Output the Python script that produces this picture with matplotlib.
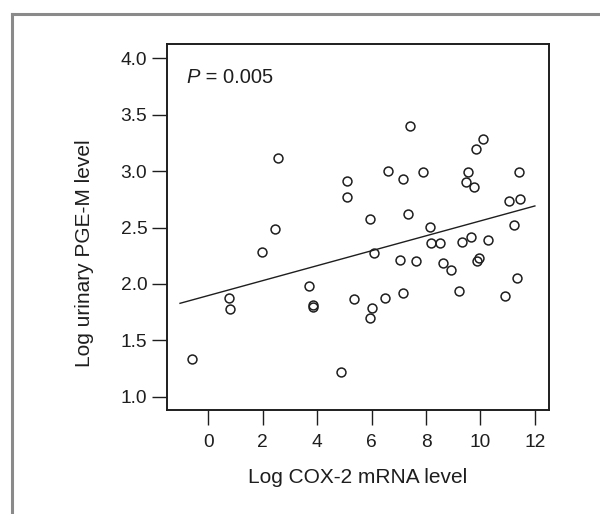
import matplotlib
matplotlib.use("Agg")
import matplotlib.pyplot as plt
from matplotlib.lines import Line2D

plt.rcParams['font.family'] = ['Liberation Sans', 'DejaVu Sans']

# Data
cox2 = [-0.59, 0.75, 0.80, 1.96, 2.44, 2.56, 3.71, 3.83, 3.84, 4.86,
        5.11, 5.11, 5.35, 5.95, 6.07, 6.02, 5.95, 6.61, 6.50, 7.16,
        7.41, 7.35, 7.04, 7.16, 7.64, 7.89, 8.13, 8.19, 8.50, 8.62,
        8.93, 9.22, 9.34, 9.47, 9.54, 9.65, 9.78, 9.83, 9.89, 9.95,
        10.08, 10.26, 10.92, 11.04, 11.23, 11.35, 11.41, 11.47]
pgem = [1.334, 1.878, 1.774, 2.286, 2.490, 3.119, 1.981, 1.816, 1.798, 1.219,
        2.915, 2.770, 1.863, 2.578, 2.271, 1.789, 1.700, 3.004, 1.878, 2.930,
        3.397, 2.623, 2.215, 1.919, 2.200, 2.989, 2.507, 2.360, 2.360, 2.185,
        2.126, 1.937, 2.374, 2.900, 2.989, 2.419, 2.859, 3.193, 2.200, 2.230,
        3.282, 2.389, 1.893, 2.738, 2.522, 2.052, 2.989, 2.756]
fit_x = [-1.04, 12.0]
fit_y = [1.828, 2.691]
x_ticks = [0, 2, 4, 6, 8, 10, 12]
y_ticks = [1.0, 1.5, 2.0, 2.5, 3.0, 3.5, 4.0]
p_label = "P"
p_value = " = 0.005"
x_label = "Log COX-2 mRNA level"
y_label = "Log urinary PGE-M level"

ink = '#1e1e1e'
fig = plt.figure(figsize=(6.0, 5.14), dpi=100)
ax = fig.add_axes([0.2778, 0.2023, 0.6377, 0.7115])

ax.plot(cox2, pgem, linestyle='none', marker='o', ms=6.4, mfc='none',
        mec=ink, mew=1.1, zorder=3)
ax.plot(fit_x, fit_y, color=ink, lw=1.0, zorder=2)

ax.set_xlim(-1.53, 12.53)
ax.set_ylim(0.882, 4.124)
ax.set_xticks(x_ticks)
ax.set_yticks(y_ticks)
ax.set_yticklabels([f"{v:.1f}" for v in y_ticks])
ax.tick_params(direction='out', length=10.5, width=1.0, color=ink,
               labelsize=13.8, labelcolor=ink, pad=3.5)
ax.tick_params(axis='x', pad=7)

for s in ax.spines.values():
    s.set_linewidth(1.4)
    s.set_color(ink)

ax.set_xlabel(x_label, fontsize=15, color=ink, labelpad=12)
ax.set_ylabel(y_label, fontsize=15, color=ink)
ax.yaxis.set_label_coords(-0.19, 0.43)

t1 = ax.text(0.052, 0.893, p_label, transform=ax.transAxes, fontsize=14.5,
             fontstyle='italic', color=ink, va='baseline', ha='left')
ax.annotate(p_value, xy=(1, 0), xycoords=t1, fontsize=14.5, color=ink,
            va='bottom', ha='left')

# outer gray frame (top and left edges)
W, H = 600.0, 514.0
frame_col = '#8a8a8a'
fig.add_artist(Line2D([11.5 / W, 1.0], [1 - 13.5 / H, 1 - 13.5 / H],
                      transform=fig.transFigure, color=frame_col, lw=2.2))
fig.add_artist(Line2D([11.5 / W, 11.5 / W], [0.0, 1 - 13.5 / H],
                      transform=fig.transFigure, color=frame_col, lw=2.2))

fig.savefig('out.png', dpi=100)
